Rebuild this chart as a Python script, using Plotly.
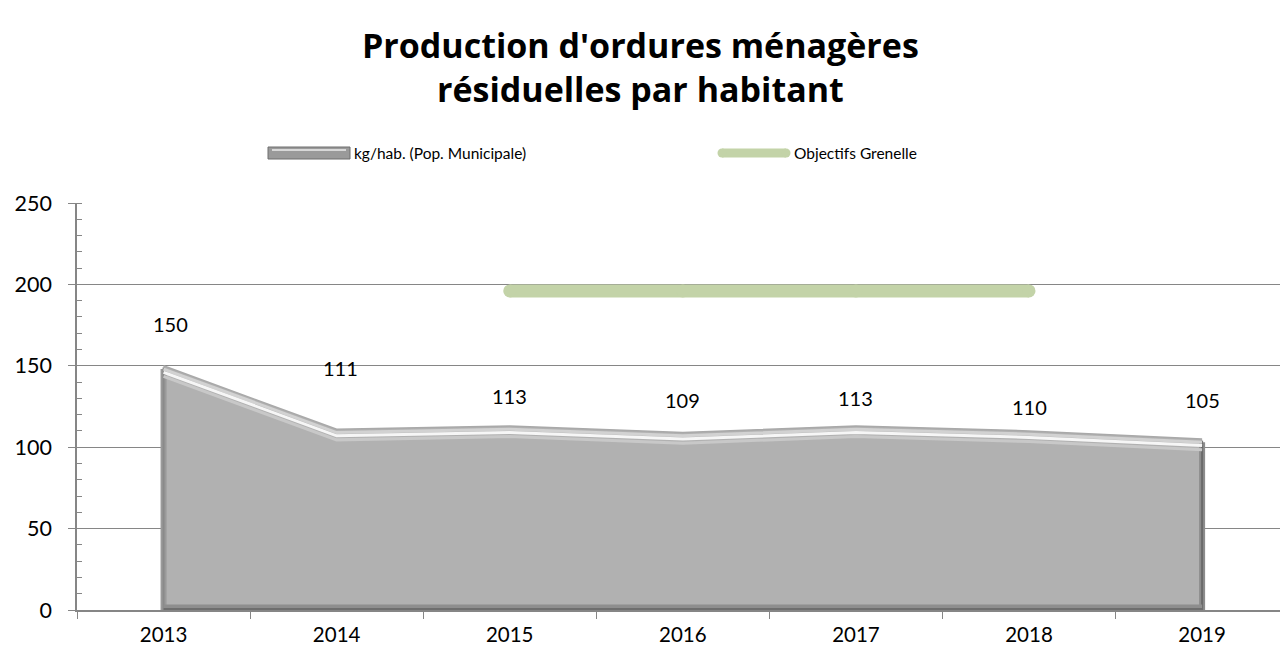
import plotly.graph_objects as go

years = ["2013", "2014", "2015", "2016", "2017", "2018", "2019"]
kg_hab = [150, 111, 113, 109, 113, 110, 105]
grenelle_years = ["2015", "2016", "2017", "2018"]
grenelle = [196, 196, 196, 196]
series_names = ["kg/hab. (Pop. Municipale)", "Objectifs Grenelle"]
label_shift = [42, 61, 30, 33, 28, 24, 39]
label_xshift = [7, 4, 0, 0, 0, 0, 0]

FONT = "Lato, Carlito, 'Open Sans', sans-serif"
TFONT = "'Open Sans', Lato, sans-serif"
GRID = "#868686"
GREEN = "#c3d3a8"
W, H = 1280, 655
ML, MR, MT, MB = 77, 0, 203, 45
PW, PH = W - ML - MR, H - MT - MB


def px(x):
    return (x - ML) / PW


def py(y):
    return (H - MB - y) / PH


fig = go.Figure()

# main area (bevelled grey look)
fig.add_trace(go.Scatter(
    x=years, y=kg_hab, mode="lines", fill="tozeroy",
    fillcolor="#b1b1b1", line=dict(color="#a9a9a9", width=1.5),
    name=series_names[0], showlegend=False, hoverinfo="x+y"))
# bevel: left / right / bottom darker edges
fig.add_trace(go.Scatter(
    x=[years[0], years[0]], y=[0, kg_hab[0] - 2], mode="lines",
    line=dict(color="#9a9a9a", width=6), showlegend=False, hoverinfo="skip"))
fig.add_trace(go.Scatter(
    x=[years[0], years[0]], y=[0, kg_hab[0] - 1], mode="lines",
    line=dict(color="#8a8a8a", width=2), showlegend=False, hoverinfo="skip"))
fig.add_trace(go.Scatter(
    x=[years[-1], years[-1]], y=[0, kg_hab[-1] - 2], mode="lines",
    line=dict(color="#8c8c8c", width=6), showlegend=False, hoverinfo="skip"))
fig.add_trace(go.Scatter(
    x=[years[-1], years[-1]], y=[0, kg_hab[-1] - 1], mode="lines",
    line=dict(color="#6a6a6a", width=2), showlegend=False, hoverinfo="skip"))
fig.add_trace(go.Scatter(
    x=[years[0], years[-1]], y=[1.5, 1.5], mode="lines",
    line=dict(color="#8e8e8e", width=6), showlegend=False, hoverinfo="skip"))
fig.add_trace(go.Scatter(
    x=[years[0], years[-1]], y=[0.5, 0.5], mode="lines",
    line=dict(color="#6e6e6e", width=2.5), showlegend=False, hoverinfo="skip"))
# highlight bevel along the top
fig.add_trace(go.Scatter(
    x=years, y=[v - 2 for v in kg_hab], mode="lines",
    line=dict(color="#d2d2d2", width=3), showlegend=False, hoverinfo="skip"))
fig.add_trace(go.Scatter(
    x=years, y=[v - 4 for v in kg_hab], mode="lines",
    line=dict(color="#f6f6f6", width=3), showlegend=False, hoverinfo="skip"))
fig.add_trace(go.Scatter(
    x=years, y=[v - 6.5 for v in kg_hab], mode="lines",
    line=dict(color="#c8c8c8", width=3), showlegend=False, hoverinfo="skip"))

# Grenelle objective line with round caps
fig.add_trace(go.Scatter(
    x=grenelle_years, y=grenelle, mode="lines+markers",
    line=dict(color=GREEN, width=13),
    marker=dict(color=GREEN, size=13, line=dict(width=0)),
    name=series_names[1], showlegend=False))

# data labels
for i, v in enumerate(kg_hab):
    fig.add_annotation(x=i, y=v, xref="x", yref="y", text=str(v), showarrow=False,
                       yshift=label_shift[i], xshift=label_xshift[i],
                       font=dict(family=FONT, size=20, color="#000000"))

# title
fig.add_annotation(x=px(640), y=py(67), xref="paper", yref="paper",
                   text="<b>Production d'ordures ménagères<br>résiduelles par habitant</b>",
                   showarrow=False, xanchor="center", yanchor="middle",
                   font=dict(family=TFONT, size=34, color="#000000"))

# custom legend
shapes = []
shapes.append(dict(type="rect", xref="paper", yref="paper",
                   x0=px(268), x1=px(350), y0=py(159), y1=py(147),
                   fillcolor="#9a9a9a", line=dict(color="#6e6e6e", width=1)))
shapes.append(dict(type="line", xref="paper", yref="paper",
                   x0=px(272), x1=px(346), y0=py(150), y1=py(150),
                   line=dict(color="#d8d8d8", width=2)))
shapes.append(dict(type="line", xref="paper", yref="paper",
                   x0=px(722), x1=px(786), y0=py(153), y1=py(153),
                   line=dict(color=GREEN, width=9)))
for cx in (722, 786):
    shapes.append(dict(type="circle", xref="paper", yref="paper",
                       x0=px(cx - 4.5), x1=px(cx + 4.5), y0=py(157.5), y1=py(148.5),
                       fillcolor=GREEN, line=dict(width=0)))
fig.update_layout(shapes=shapes)
fig.add_annotation(x=px(352), y=py(153), xref="paper", yref="paper",
                   text=series_names[0], showarrow=False, xanchor="left", yanchor="middle",
                   font=dict(family=FONT, size=15.5, color="#000000"))
fig.add_annotation(x=px(792), y=py(153), xref="paper", yref="paper",
                   text=series_names[1], showarrow=False, xanchor="left", yanchor="middle",
                   font=dict(family=FONT, size=15.5, color="#000000"))

fig.update_layout(
    width=W, height=H,
    paper_bgcolor="white", plot_bgcolor="white",
    margin=dict(l=ML, r=MR, t=MT, b=MB, autoexpand=False),
    showlegend=False,
    font=dict(family=FONT, color="#000000"),
)

fig.update_xaxes(
    type="category", range=[-0.5, 6.45],
    showline=True, linecolor=GRID, linewidth=1.5,
    ticks="outside", tickson="boundaries", ticklen=7, tickcolor=GRID,
    ticklabelstandoff=6,
    showgrid=False, tickfont=dict(family=FONT, size=20.5, color="#000000"),
)
fig.update_yaxes(
    range=[0, 250], dtick=50, tick0=0,
    showline=True, linecolor=GRID, linewidth=1.5,
    ticks="outside", ticklen=7, tickcolor=GRID,
    ticklabelstandoff=12,
    showgrid=True, gridcolor=GRID, gridwidth=1,
    zeroline=False,
    minor=dict(dtick=10, ticks="inside", ticklen=5, tickcolor=GRID, showgrid=False),
    tickfont=dict(family=FONT, size=21.5, color="#000000"),
)

fig.write_html("out.html", config={"displayModeBar": False},
               post_script="document.body.style.margin='0px';document.body.style.overflow='hidden';")
